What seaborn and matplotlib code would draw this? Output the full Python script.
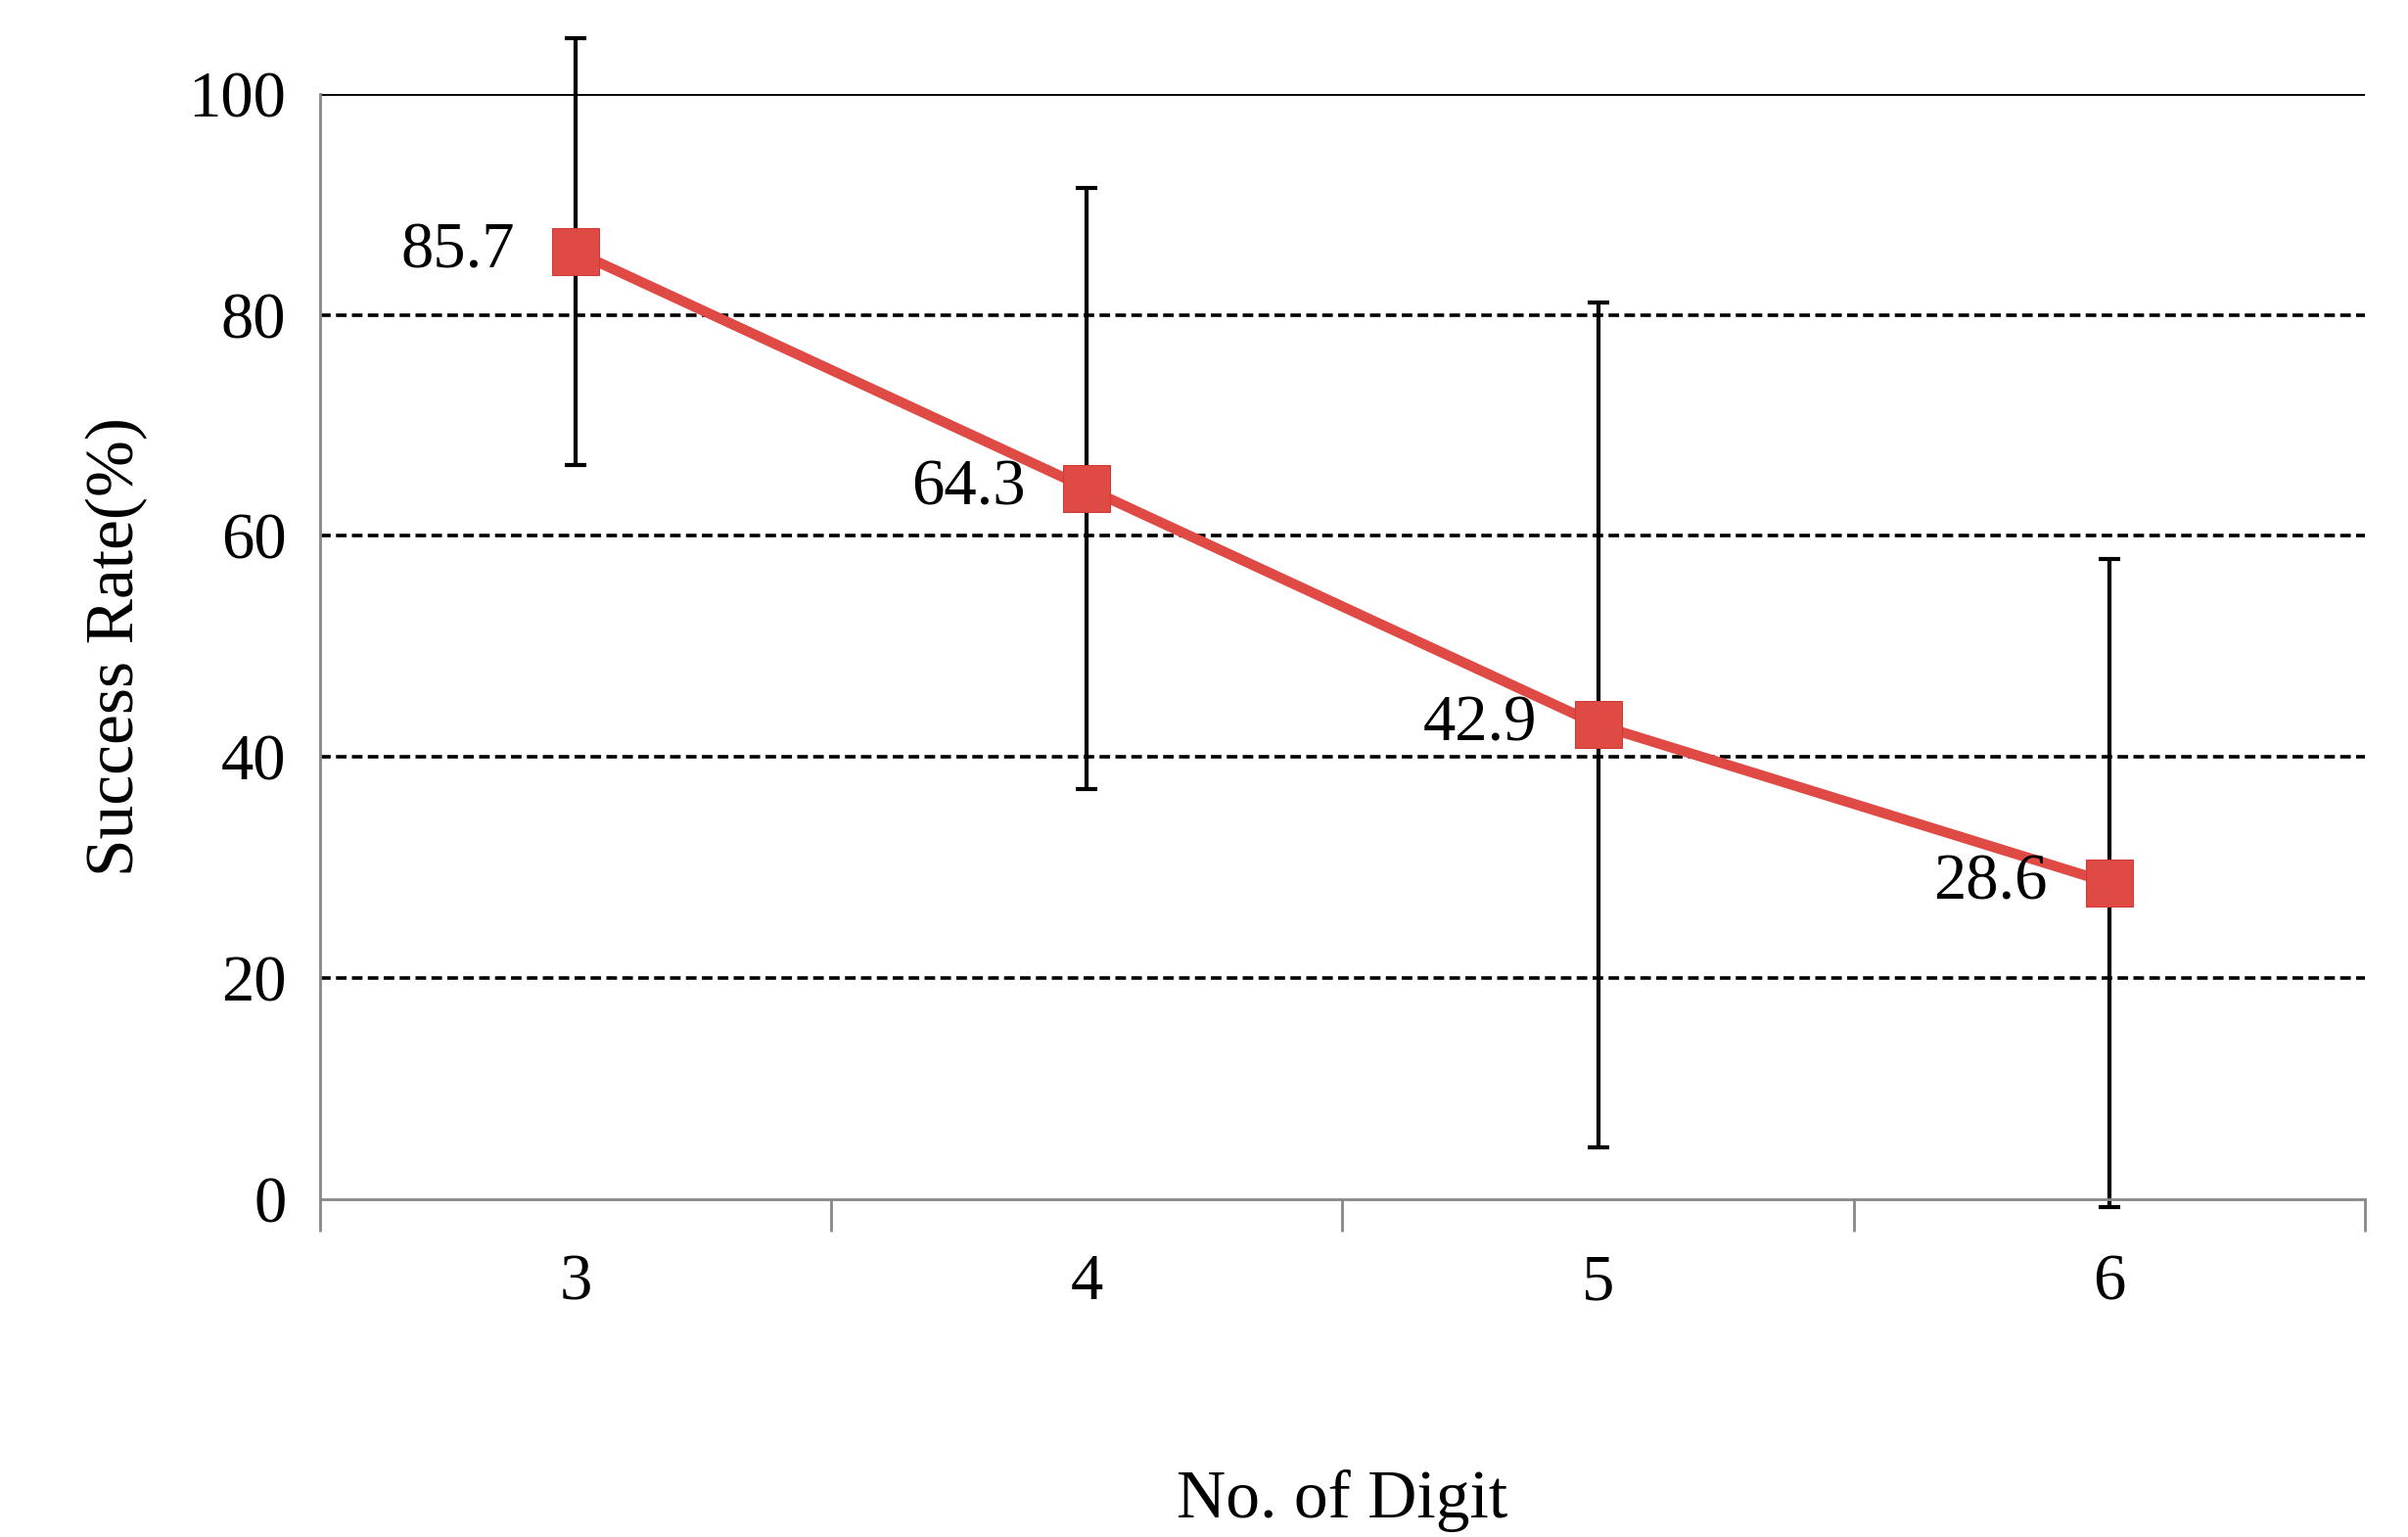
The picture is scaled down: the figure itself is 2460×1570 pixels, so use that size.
import matplotlib
matplotlib.use("Agg")
import matplotlib.pyplot as plt
import seaborn as sns
import pandas as pd

digits = [3, 4, 5, 6]
success = [85.7, 64.3, 42.9, 28.6]
err = [19.3, 27.2, 38.2, 29.3]
labels = ["85.7", "64.3", "42.9", "28.6"]

sns.set_theme(style="white")
plt.rcParams['font.family'] = ['Liberation Serif', 'DejaVu Serif']
plt.rcParams['text.color'] = 'black'
plt.rcParams['xtick.color'] = 'black'
plt.rcParams['ytick.color'] = 'black'
plt.rcParams['axes.labelcolor'] = 'black'

fig = plt.figure(figsize=(24.6, 15.7), dpi=100)
ax = fig.add_axes([0.133, 0.22, 0.849, 0.719])
df = pd.DataFrame({"d": digits, "s": success})

for y in [20, 40, 60, 80]:
    ax.axhline(y, color="black", ls=(0, (3, 1.5)), lw=2.6, zorder=0)
ax.axhline(100, color="black", lw=2.8, zorder=0)

ax.errorbar(digits, success, yerr=err, fmt="none", ecolor="black", elinewidth=3,
            capsize=8, capthick=3, clip_on=False, zorder=2)
sns.lineplot(data=df, x="d", y="s", ax=ax, color="#e04a45", lw=7.5, marker="s",
             markersize=34, markeredgecolor="#d03a36", zorder=3)
for x, y, t in zip(digits, success, labels):
    ax.text(x - 0.12, y, t, ha="right", va="center", fontsize=48, color="black", zorder=4)

ax.set_xlim(2.5, 6.5)
ax.set_ylim(0, 100)
ax.set_yticks([0, 20, 40, 60, 80, 100])
ax.set_xticks([3, 4, 5, 6])
ax.set_xticks([2.5, 3.5, 4.5, 5.5, 6.5], minor=True)
ax.tick_params(axis="x", which="major", length=0, pad=40, labelsize=48)
ax.tick_params(axis="x", which="minor", length=24, width=2, color="#888888", direction="out", bottom=True)
ax.tick_params(axis="y", length=0, pad=25, labelsize=48)
for s in ["top", "right"]:
    ax.spines[s].set_visible(False)
ax.spines["left"].set_color("#888888")
ax.spines["left"].set_linewidth(2)
ax.spines["bottom"].set_color("#888888")
ax.spines["bottom"].set_linewidth(2)
ax.set_xlabel("No. of Digit", fontsize=50, labelpad=115)
ax.set_ylabel("Success Rate(%)", fontsize=50, labelpad=30)
fig.savefig("out.png", dpi=100)
